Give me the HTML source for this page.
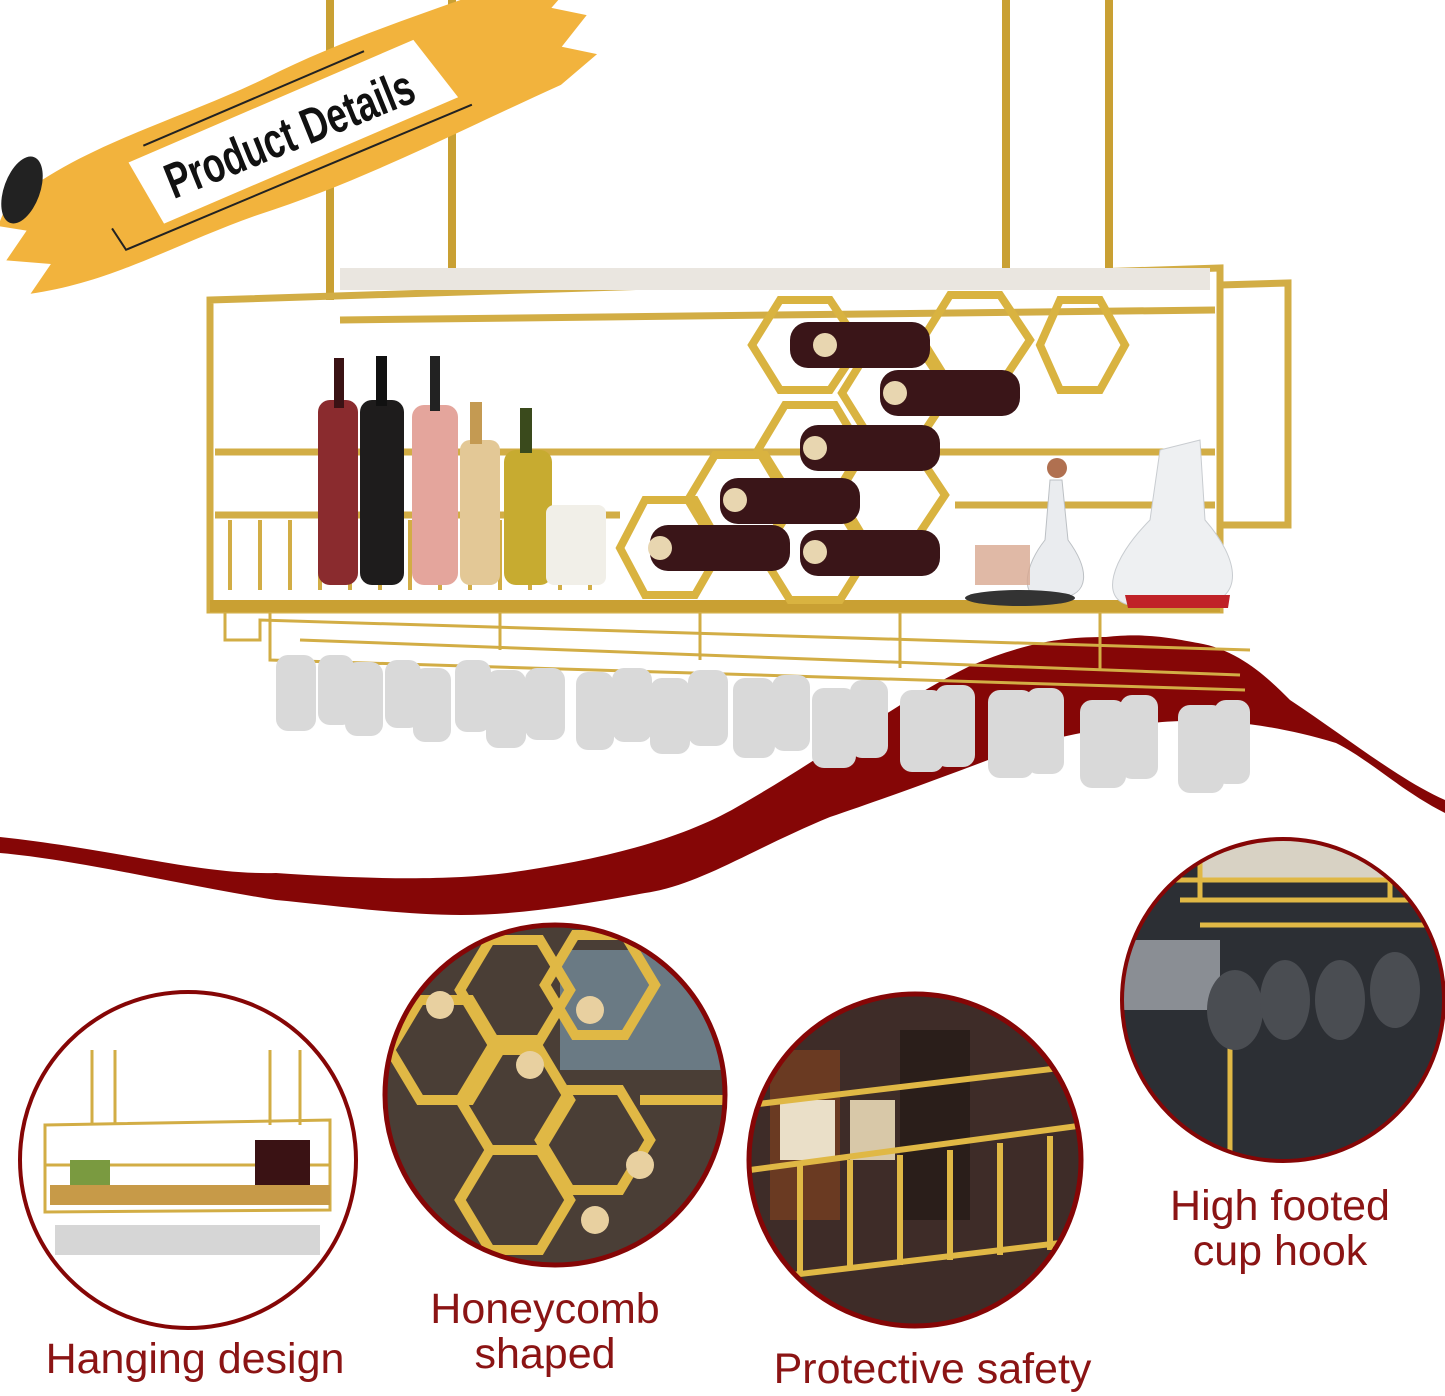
<!DOCTYPE html>
<html><head><meta charset="utf-8"><style>
html,body{margin:0;padding:0;background:#fff;}
body{width:1445px;height:1396px;overflow:hidden;position:relative;font-family:"Liberation Sans",sans-serif;}
.lbl{position:absolute;color:#8b1414;font-size:43px;line-height:45px;text-align:center;white-space:nowrap;}
</style></head><body>
<svg width="1445" height="1396" viewBox="0 0 1445 1396" style="position:absolute;left:0;top:0">
<defs>
<clipPath id="c1"><circle cx="188" cy="1160" r="168"/></clipPath>
<clipPath id="c2"><circle cx="555" cy="1095" r="170"/></clipPath>
<clipPath id="c3"><circle cx="915" cy="1160" r="166"/></clipPath>
<clipPath id="c4"><circle cx="1283" cy="1000" r="161"/></clipPath>
</defs>
<path d="M0,837 C120,850 200,875 276,873 C380,880 450,880 507,873 C600,860 680,840 737,807 C820,760 900,700 968,667 C1030,640 1070,637 1106,637 C1150,632 1180,640 1198,643 C1240,650 1270,680 1290,700 C1350,740 1400,780 1445,800 L1445,813 C1400,790 1370,760 1336,743 C1260,720 1200,718 1152,723 C1100,728 1050,738 1014,750 C950,775 880,800 830,817 C750,850 700,885 645,893 C580,905 520,915 461,915 C400,915 330,905 276,900 C180,885 80,860 0,853 Z" fill="#850606"/>
<g fill="#c9a033">
<rect x="326" y="0" width="8" height="300"/><rect x="448" y="0" width="8" height="280"/>
<rect x="1002" y="0" width="8" height="270"/><rect x="1105" y="0" width="8" height="290"/>
</g>
<g transform="translate(290,135) rotate(-22)">
<path d="M-290,-40 C-200,-70 -100,-55 0,-62 C100,-70 200,-60 300,-58 L330,-40 L290,-20 L320,0 L285,20 L315,40 L270,55 C150,60 50,70 -60,62 C-150,58 -220,70 -300,50 L-270,30 L-310,10 L-280,-10 L-305,-25 Z" fill="#f2b33d"/>
<path d="M-160,-35 L150,-42 L170,28 L-150,35 Z" fill="#fff"/>
<line x1="-140" y1="-45" x2="100" y2="-50" stroke="#222" stroke-width="2"/>
<path d="M-200,20 L-195,45 L180,40" fill="none" stroke="#222" stroke-width="2"/>
<text x="0" y="16" text-anchor="middle" font-family="Liberation Sans Narrow, Liberation Sans, sans-serif" font-weight="bold" font-size="50" transform="scale(0.72,1)" fill="#111">Product Details</text>
</g>
<ellipse cx="22" cy="190" rx="18" ry="35" fill="#222" transform="rotate(20 22 190)"/>
<g fill="none" stroke="#d2ad45" stroke-width="7">
<path d="M210,300 L1220,268 L1220,610 L210,610 Z"/>
<line x1="215" y1="452" x2="1215" y2="452"/>
<line x1="215" y1="515" x2="620" y2="515"/>
<line x1="955" y1="505" x2="1215" y2="505"/>
<path d="M1220,285 L1288,283 L1288,525 L1220,525"/>
<line x1="340" y1="320" x2="1215" y2="310"/>
</g>
<rect x="340" y="268" width="870" height="22" fill="#eae6e0"/>
<g stroke="#d2ad45" stroke-width="4">
<line x1="230" y1="520" x2="230" y2="590"/><line x1="260" y1="520" x2="260" y2="590"/><line x1="290" y1="520" x2="290" y2="590"/><line x1="320" y1="520" x2="320" y2="590"/><line x1="350" y1="520" x2="350" y2="590"/><line x1="380" y1="520" x2="380" y2="590"/><line x1="410" y1="520" x2="410" y2="590"/><line x1="440" y1="520" x2="440" y2="590"/><line x1="470" y1="520" x2="470" y2="590"/><line x1="500" y1="520" x2="500" y2="590"/><line x1="530" y1="520" x2="530" y2="590"/><line x1="560" y1="520" x2="560" y2="590"/><line x1="590" y1="520" x2="590" y2="590"/>
</g>
<rect x="210" y="600" width="1010" height="12" fill="#c9a033"/>
<g>
<rect x="318" y="400" width="40" height="185" rx="12" fill="#8a2b2e"/><rect x="334" y="358" width="10" height="50" fill="#3a1214"/>
<rect x="360" y="400" width="44" height="185" rx="12" fill="#1e1c1c"/><rect x="376" y="356" width="11" height="50" fill="#111"/>
<rect x="412" y="405" width="46" height="180" rx="12" fill="#e4a59c"/><rect x="430" y="356" width="10" height="55" fill="#222"/>
<rect x="460" y="440" width="40" height="145" rx="10" fill="#e3c896"/><rect x="470" y="402" width="12" height="42" fill="#c49a52"/>
<rect x="504" y="450" width="48" height="135" rx="12" fill="#c7ab30"/><rect x="520" y="408" width="12" height="45" fill="#3a4a1c"/>
<rect x="546" y="505" width="60" height="80" rx="8" fill="#f1efe8"/>
</g>
<g fill="none" stroke="#d9b340" stroke-width="8">
<polygon points="780,300 830,300 860,345 830,390 780,390 752,345"/>
<polygon points="950,295 1000,295 1030,340 1000,385 950,385 922,340"/>
<polygon points="1060,300 1100,300 1125,345 1100,390 1060,390 1040,345"/>
<polygon points="870,348 920,348 950,393 920,438 870,438 842,393"/>
<polygon points="785,405 835,405 862,450 835,495 785,495 758,450"/>
<polygon points="865,450 915,450 945,495 915,540 865,540 838,495"/>
<polygon points="715,455 765,455 793,500 765,545 715,545 688,500"/>
<polygon points="790,510 840,510 868,555 840,600 790,600 762,555"/>
<polygon points="645,500 695,500 722,548 695,595 645,595 620,548"/>
</g>
<g fill="#3a1518">
<rect x="790" y="322" width="140" height="46" rx="18"/><rect x="880" y="370" width="140" height="46" rx="18"/>
<rect x="800" y="425" width="140" height="46" rx="18"/><rect x="720" y="478" width="140" height="46" rx="18"/>
<rect x="800" y="530" width="140" height="46" rx="18"/><rect x="650" y="525" width="140" height="46" rx="18"/>
</g>
<g fill="#e8d6b0"><circle cx="825" cy="345" r="12"/><circle cx="895" cy="393" r="12"/><circle cx="815" cy="448" r="12"/><circle cx="735" cy="500" r="12"/><circle cx="815" cy="552" r="12"/><circle cx="660" cy="548" r="12"/></g>
<path d="M1160,450 L1200,440 L1205,520 C1240,560 1245,600 1200,605 L1130,605 C1100,600 1110,560 1150,520 Z" fill="#eef0f2" stroke="#c8ccd0"/>
<path d="M1125,595 L1230,595 L1228,608 L1128,608 Z" fill="#c02228"/>
<path d="M1050,480 L1062,480 L1068,540 C1090,570 1090,595 1060,598 L1040,598 C1020,595 1025,565 1045,540 Z" fill="#eaecef" stroke="#bcc0c4"/>
<circle cx="1057" cy="468" r="10" fill="#b07050"/>
<ellipse cx="1020" cy="598" rx="55" ry="8" fill="#333"/>
<rect x="975" y="545" width="55" height="40" fill="#d8a890" opacity="0.8"/>
<g fill="none" stroke="#d2ad45" stroke-width="3">
<path d="M225,612 L225,640 L260,640 L260,620 L1250,650"/>
<path d="M270,612 L270,660 L1245,690"/>
<path d="M300,640 L1240,675"/>
<path d="M500,612 L500,650"/><path d="M700,612 L700,660"/><path d="M900,612 L900,668"/><path d="M1100,612 L1100,670"/>
</g>
<g fill="#d9d9d9">
<rect x="276" y="655" width="40" height="76" rx="12"/><rect x="318" y="655" width="36" height="70" rx="12"/><rect x="345" y="662" width="38" height="74" rx="12"/>
<rect x="385" y="660" width="36" height="68" rx="12"/><rect x="413" y="668" width="38" height="74" rx="12"/><rect x="455" y="660" width="36" height="72" rx="12"/>
<rect x="486" y="670" width="40" height="78" rx="12"/><rect x="525" y="668" width="40" height="72" rx="12"/><rect x="576" y="672" width="38" height="78" rx="12"/>
<rect x="612" y="668" width="40" height="74" rx="12"/><rect x="650" y="678" width="40" height="76" rx="12"/><rect x="688" y="670" width="40" height="76" rx="12"/>
<rect x="733" y="678" width="42" height="80" rx="12"/><rect x="772" y="675" width="38" height="76" rx="12"/><rect x="812" y="688" width="44" height="80" rx="12"/>
<rect x="850" y="680" width="38" height="78" rx="12"/><rect x="900" y="690" width="44" height="82" rx="12"/><rect x="935" y="685" width="40" height="82" rx="12"/>
<rect x="988" y="690" width="46" height="88" rx="12"/><rect x="1026" y="688" width="38" height="86" rx="12"/><rect x="1080" y="700" width="46" height="88" rx="12"/>
<rect x="1120" y="695" width="38" height="84" rx="12"/><rect x="1178" y="705" width="46" height="88" rx="12"/><rect x="1214" y="700" width="36" height="84" rx="12"/>
</g>
<g clip-path="url(#c1)">
<rect x="0" y="980" width="380" height="360" fill="#fff"/>
<g stroke="#d2ad45" stroke-width="3" fill="none"><line x1="92" y1="1050" x2="92" y2="1125"/><line x1="115" y1="1050" x2="115" y2="1125"/><line x1="270" y1="1050" x2="270" y2="1125"/><line x1="300" y1="1050" x2="300" y2="1125"/>
<path d="M45,1125 L330,1120 L330,1210 L45,1212 Z"/><line x1="45" y1="1165" x2="330" y2="1165"/></g>
<rect x="255" y="1140" width="55" height="65" fill="#3a1214"/><rect x="70" y="1160" width="40" height="30" fill="#7a9a40"/>
<rect x="50" y="1185" width="280" height="20" fill="#c79a48"/>
<rect x="55" y="1225" width="265" height="30" fill="#d6d6d6"/>
</g>
<circle cx="188" cy="1160" r="168" fill="none" stroke="#850606" stroke-width="4"/>
<g clip-path="url(#c2)">
<rect x="380" y="920" width="350" height="350" fill="#4a3e36"/>
<rect x="560" y="950" width="170" height="120" fill="#6a7a84"/>
<g fill="none" stroke="#e0b845" stroke-width="10">
<polygon points="490,940 540,940 570,990 540,1040 490,1040 460,990"/>
<polygon points="575,935 625,935 655,985 625,1035 575,1035 545,985"/>
<polygon points="490,1050 540,1050 570,1100 540,1150 490,1150 460,1100"/>
<polygon points="570,1090 620,1090 650,1140 620,1190 570,1190 540,1140"/>
<polygon points="420,1000 470,1000 500,1050 470,1100 420,1100 390,1050"/>
<polygon points="490,1150 540,1150 570,1200 540,1250 490,1250 460,1200"/>
<line x1="640" y1="1100" x2="730" y2="1100"/>
</g>
<g fill="#e8d0a0"><circle cx="440" cy="1005" r="14"/><circle cx="590" cy="1010" r="14"/><circle cx="530" cy="1065" r="14"/><circle cx="640" cy="1165" r="14"/><circle cx="595" cy="1220" r="14"/></g>
</g>
<circle cx="555" cy="1095" r="170" fill="none" stroke="#850606" stroke-width="5"/>
<g clip-path="url(#c3)">
<rect x="740" y="990" width="350" height="340" fill="#3e2c28"/>
<rect x="770" y="1050" width="70" height="170" fill="#6a3a22"/><rect x="900" y="1030" width="70" height="190" fill="#2a1e1a"/>
<rect x="780" y="1100" width="55" height="60" fill="#eadfc8"/><rect x="850" y="1100" width="45" height="60" fill="#d8c8a8"/>
<g stroke="#e0b845" stroke-width="6" fill="none"><line x1="750" y1="1105" x2="1085" y2="1065"/><line x1="750" y1="1170" x2="1085" y2="1125"/><line x1="750" y1="1280" x2="1085" y2="1240"/>
<line x1="800" y1="1165" x2="800" y2="1275"/><line x1="850" y1="1160" x2="850" y2="1270"/><line x1="900" y1="1155" x2="900" y2="1265"/><line x1="950" y1="1150" x2="950" y2="1260"/><line x1="1000" y1="1143" x2="1000" y2="1255"/><line x1="1050" y1="1136" x2="1050" y2="1250"/></g>
</g>
<circle cx="915" cy="1160" r="166" fill="none" stroke="#850606" stroke-width="5"/>
<g clip-path="url(#c4)">
<rect x="1120" y="835" width="330" height="330" fill="#2c2f34"/>
<rect x="1120" y="940" width="100" height="70" fill="#8a8e94"/>
<rect x="1200" y="840" width="200" height="40" fill="#d8d2c4"/>
<g stroke="#e0b845" stroke-width="5" fill="none"><line x1="1170" y1="880" x2="1420" y2="880"/><path d="M1200,840 L1200,900"/><path d="M1390,840 L1390,900"/><line x1="1180" y1="900" x2="1440" y2="900"/><line x1="1200" y1="925" x2="1440" y2="925"/><line x1="1230" y1="1010" x2="1230" y2="1165"/></g>
<g fill="#4a4d52"><ellipse cx="1235" cy="1010" rx="28" ry="40"/><ellipse cx="1285" cy="1000" rx="25" ry="40"/><ellipse cx="1340" cy="1000" rx="25" ry="40"/><ellipse cx="1395" cy="990" rx="25" ry="38"/></g>
</g>
<circle cx="1283" cy="1000" r="161" fill="none" stroke="#850606" stroke-width="4"/>
</svg>
<div class="lbl" style="left:30px;top:1337px;width:330px;">Hanging design</div>
<div class="lbl" style="left:390px;top:1287px;width:310px;">Honeycomb<br>shaped</div>
<div class="lbl" style="left:755px;top:1347px;width:355px;">Protective safety</div>
<div class="lbl" style="left:1130px;top:1184px;width:300px;">High footed<br>cup hook</div>
</body></html>
